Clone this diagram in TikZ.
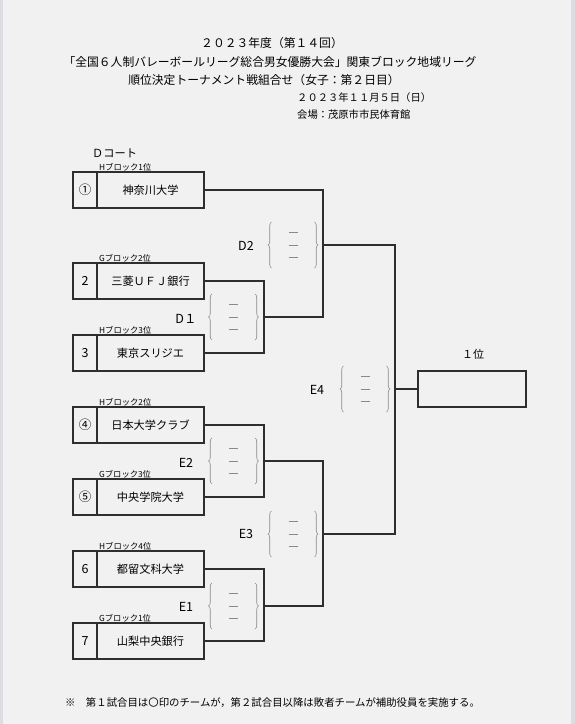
\documentclass[tikz,border=0pt]{standalone}
\usepackage{fontspec}
\setmainfont{Noto Sans CJK JP}
\usetikzlibrary{positioning,decorations.pathreplacing}
\definecolor{pagebg}{HTML}{F1F1F1}
\definecolor{edgegray}{HTML}{DCDCE1}
\definecolor{linegray}{HTML}{2E2E2E}
\definecolor{scoregray}{HTML}{8A8A8A}

\begin{document}
\begin{tikzpicture}[
    x=1pt,
    y=-1pt,
    numcell/.style={draw=linegray, line width=1.3pt, outer sep=0pt, inner sep=0pt, minimum width=24pt, minimum height=36pt, font=\fontsize{12.5}{14}\selectfont},
    teamcell/.style={draw=linegray, line width=1.3pt, outer sep=0pt, inner sep=0pt, minimum width=107pt, minimum height=36pt, font=\fontsize{11.2}{13}\selectfont},
    seed/.style={anchor=west, inner sep=0pt, font=\fontsize{8.3}{9}\selectfont},
    headline/.style={inner sep=0pt, font=\fontsize{11.8}{13}\selectfont},
    info/.style={anchor=west, inner sep=0pt, font=\fontsize{10.3}{12}\selectfont},
    match/.style={inner sep=0pt, font=\fontsize{12.5}{14}\selectfont},
    line/.style={draw=linegray, line width=1.3pt},
    score/.pic={
        \draw[scoregray, line width=0.6pt, decorate, decoration={brace, amplitude=3.5pt}] (-21.5,23) -- (-21.5,-23);
        \draw[scoregray, line width=0.6pt, decorate, decoration={brace, amplitude=3.5pt}] (21.5,-23) -- (21.5,23);
        \foreach \dy in {-12.5,0,12.5}
            \draw[scoregray, line width=0.8pt] (-4.5,\dy) -- (4.5,\dy);
    }
]
% page
\useasboundingbox (0,0) rectangle (575,724);
\fill[pagebg] (0,0) rectangle (575,724);
\fill[edgegray] (0,0) rectangle (3,724);
\fill[edgegray] (571,0) rectangle (575,724);

% heading
\node[headline] (head1) at (272,43) {２０２３年度（第１４回）};
\node[headline] (head2) at (270,62) {「全国６人制バレーボールリーグ総合男女優勝大会」関東ブロック地域リーグ};
\node[headline] (head3) at (264,80) {順位決定トーナメント戦組合せ（女子：第２日目）};
\node[info] (date) at (297,98) {２０２３年１１月５日（日）};
\node[info] (venue) at (297,115) {会場：茂原市市民体育館};

\node[match, anchor=west, font=\fontsize{11.2}{13}\selectfont] (court) at (92,153) {Ｄコート};

% teams
\node[numcell] (n1) at (85,190) {①};
\node[teamcell, right=0pt of n1] (t1) {神奈川大学};
\node[seed] (s1) at (99,167) {Hブロック1位};

\node[numcell] (n2) at (85,281) {2};
\node[teamcell, right=0pt of n2] (t2) {三菱ＵＦＪ銀行};
\node[seed] (s2) at (99,258) {Gブロック2位};

\node[numcell] (n3) at (85,353) {3};
\node[teamcell, right=0pt of n3] (t3) {東京スリジエ};
\node[seed] (s3) at (99,330) {Hブロック3位};

\node[numcell] (n4) at (85,425) {④};
\node[teamcell, right=0pt of n4] (t4) {日本大学クラブ};
\node[seed] (s4) at (99,402) {Hブロック2位};

\node[numcell] (n5) at (85,497) {⑤};
\node[teamcell, right=0pt of n5] (t5) {中央学院大学};
\node[seed] (s5) at (99,474) {Gブロック3位};

\node[numcell] (n6) at (85,569) {6};
\node[teamcell, right=0pt of n6] (t6) {都留文科大学};
\node[seed] (s6) at (99,546) {Hブロック4位};

\node[numcell] (n7) at (85,641) {7};
\node[teamcell, right=0pt of n7] (t7) {山梨中央銀行};
\node[seed] (s7) at (99,618) {Gブロック1位};

% winner
\node[draw=linegray, line width=1.3pt, minimum width=108pt, minimum height=36pt, outer sep=0pt] (win) at (472,389) {};
\node[match, font=\fontsize{11}{13}\selectfont] (rank) at (473,354) {１位};

% bracket joints
\coordinate (d1) at (264,317);
\coordinate (d2) at (323,245);
\coordinate (e2) at (264,461);
\coordinate (e1) at (264,606);
\coordinate (e3) at (323,534);
\coordinate (e4) at (395,389);

\draw[line] (t2.east) -| (d1) |- (t3.east);
\draw[line] (t1.east) -| (d2) |- (d1);
\draw[line] (t4.east) -| (e2) |- (t5.east);
\draw[line] (t6.east) -| (e1) |- (t7.east);
\draw[line] (e2) -| (e3) |- (e1);
\draw[line] (d2) -| (e4) |- (e3);
\draw[line] (e4) -- (win.west);

% score slots
\pic at (233.5,317) {score};
\pic at (293,245) {score};
\pic at (233.5,461) {score};
\pic at (233.5,606) {score};
\pic at (293,534) {score};
\pic at (365,389) {score};

\node[match] (lbd1) at (186,319) {D１};
\node[match] (lbd2) at (246,246) {D2};
\node[match] (lbe2) at (186,463) {E2};
\node[match] (lbe1) at (186,607) {E1};
\node[match] (lbe3) at (246,534) {E3};
\node[match] (lbe4) at (317,390) {E4};

% note
\node[info, font=\fontsize{10.4}{12}\selectfont] (note) at (65,703) {※　第１試合目は〇印のチームが，第２試合目以降は敗者チームが補助役員を実施する。};
\end{tikzpicture}
\end{document}
